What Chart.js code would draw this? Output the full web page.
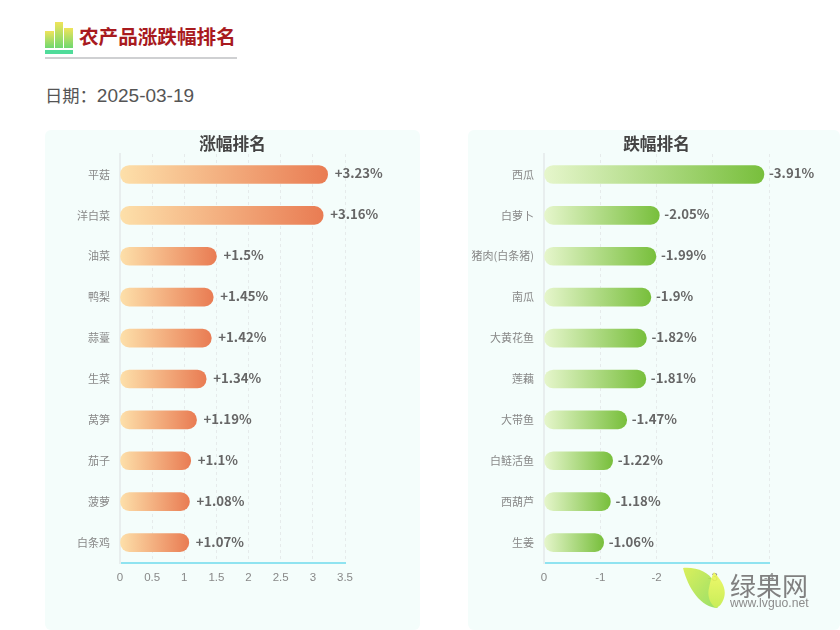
<!DOCTYPE html>
<html lang="zh">
<head>
<meta charset="utf-8">
<title>农产品涨跌幅排名</title>
<script src="https://cdn.jsdelivr.net/npm/chart.js@4/dist/chart.umd.min.js"></script>
<style>
  html, body { margin: 0; padding: 0; background: #fff; overflow: hidden; }
  body { width: 840px; height: 630px; position: relative; font-family: "Noto Sans CJK SC", sans-serif; }
  .abs { position: absolute; }
  .panel { background: #f4fdfb; border-radius: 6px; top: 130px; height: 500px; }
  .icon div { position: absolute; bottom: 6px; width: 8.5px; background: linear-gradient(#f0e45a, #6fd870); }
</style>
</head>
<body>
  <div class="abs icon" style="left:45px;top:22px;width:28px;height:32px">
    <div style="left:0;height:17px"></div>
    <div style="left:9.5px;height:26px"></div>
    <div style="left:19px;height:20px"></div>
    <div style="left:0;bottom:0;width:28px;height:4px;background:#4fdc9a"></div>
  </div>
  <div class="abs" style="left:79px;top:22px;font-size:19.6px;line-height:28px;font-weight:700;color:#a81a1e;white-space:nowrap">农产品涨跌幅排名</div>
  <div class="abs" style="left:45px;top:57px;width:192px;height:2px;background:#cfd0d2"></div>
  <div class="abs" style="left:45px;top:84px;font-family:'Liberation Sans','Noto Sans CJK SC';font-size:17.3px;line-height:24px;color:#555;white-space:nowrap">日期：<span style="font-size:19px">2025-03-19</span></div>

  <div class="abs panel" style="left:45px;width:375px"><canvas id="riseChart" width="375" height="500" style="width:375px;height:500px"></canvas></div>
  <div class="abs panel" style="left:468px;width:372px"><canvas id="fallChart" width="377" height="500" style="width:377px;height:500px"></canvas></div>

  <svg class="abs" style="left:683px;top:566px;opacity:.9" width="44" height="44" viewBox="0 0 44 44">
    <defs>
      <linearGradient id="leafA" x1="0" y1="0" x2="1" y2="1"><stop offset="0" stop-color="#d8ee4a"/><stop offset="1" stop-color="#8fdc5a"/></linearGradient>
      <linearGradient id="leafB" x1="0" y1="0" x2="0" y2="1"><stop offset="0" stop-color="#eef75a"/><stop offset="1" stop-color="#c4ec48"/></linearGradient>
    </defs>
    <path d="M0 2 C14 1 26 6 31 16 C26 24 26 34 35 42 C18 42 5 22 0 2 Z" fill="url(#leafA)"/>
    <path d="M31 6 C38 14 44 22 41 32 C39 38 36 41 33 42 C27 38 24 30 26 22 C27 16 29 10 31 6 Z" fill="url(#leafB)"/>
  </svg>
  <div class="abs" style="left:730px;top:569px;font-size:26px;line-height:32px;color:#808080;white-space:nowrap">绿果网</div>
  <div class="abs" style="left:730px;top:596px;font-family:'Liberation Sans';font-size:12.2px;line-height:14px;color:#8c8c8c;white-space:nowrap">www.lvguo.net</div>

<script>
// 涨幅
const riseNames = ['平菇', '洋白菜', '油菜', '鸭梨', '蒜薹', '生菜', '莴笋', '茄子', '菠萝', '白条鸡'];
const riseValues = [3.23, 3.16, 1.5, 1.45, 1.42, 1.34, 1.19, 1.1, 1.08, 1.07];
const riseTicks = [0, 0.5, 1, 1.5, 2, 2.5, 3, 3.5];

// 跌幅
const fallNames = ['西瓜', '白萝卜', '猪肉(白条猪)', '南瓜', '大黄花鱼', '莲藕', '大带鱼', '白鲢活鱼', '西葫芦', '生姜'];
const fallValues = [-3.91, -2.05, -1.99, -1.9, -1.82, -1.81, -1.47, -1.22, -1.18, -1.06];
const fallTicks = [0, -1, -2, -3, -4];

const FONT = '"Noto Sans CJK SC", sans-serif';

// 막대 끝에 값 표시, 제목은 캔버스 전체 폭 기준으로 가운데 정렬
const valueLabels = {
    id: 'valueLabels',
    afterLayout(chart) {
        chart.titleBlock.left = 0;
        chart.titleBlock.right = chart.width;
    },
    afterDatasetsDraw(chart) {
        const ctx = chart.ctx;
        ctx.save();
        ctx.font = '600 13.2px ' + FONT;
        ctx.fillStyle = '#666';
        ctx.textAlign = 'left';
        ctx.textBaseline = 'middle';
        chart.getDatasetMeta(0).data.forEach((bar, i) => {
            const v = chart.data.datasets[0].data[i];
            ctx.fillText((v > 0 ? '+' : '') + v + '%', bar.x + (v > 0 ? 7 : 5), bar.y - 1);
        });
        ctx.restore();
    }
};

function barGradient(context, from, to) {
    const chart = context.chart;
    const x = chart.scales.x;
    if (!x || context.raw === undefined) return to;
    const x0 = x.getPixelForValue(0);
    const x1 = x.getPixelForValue(context.raw);
    if (!isFinite(x0) || !isFinite(x1)) return to;  // 레이아웃 전
    const g = chart.ctx.createLinearGradient(x0, 0, x1, 0);
    g.addColorStop(0, from);
    g.addColorStop(1, to);
    return g;
}

function createChart(canvasId, title, names, values, ticks, from, to, yWidth, rightPad) {
    const low = Math.min(...ticks), high = Math.max(...ticks);
    return new Chart(document.getElementById(canvasId), {
        type: 'bar',
        data: {
            labels: names,
            datasets: [{
                data: values,
                barThickness: 18,
                borderRadius: 9,
                borderSkipped: false,
                backgroundColor: c => barGradient(c, from, to)
            }]
        },
        options: {
            indexAxis: 'y',
            responsive: false,
            animation: false,
            layout: { padding: { left: 0, right: rightPad, top: 0, bottom: 39 } },
            plugins: {
                legend: { display: false },
                tooltip: { enabled: false },
                title: {
                    display: true,
                    text: title,
                    color: '#444',
                    font: { family: FONT, size: 16.7, weight: '700' },
                    padding: { top: 4, bottom: 0 }
                }
            },
            scales: {
                x: {
                    min: low,
                    max: high,
                    reverse: high === 0,
                    afterBuildTicks: s => { s.ticks = ticks.map(v => ({ value: v })); },
                    afterFit: s => { s.height = 28; },
                    grid: { color: '#e6ebeb', drawTicks: false },
                    border: { color: '#8fe3f0', width: 2, dash: [3, 3] },
                    ticks: {
                        color: '#888',
                        padding: 8,
                        maxRotation: 0,
                        font: { family: '"Liberation Sans"', size: 11.5 },
                        callback: v => String(v)
                    }
                },
                y: {
                    afterFit: s => { s.width = yWidth; },
                    grid: { display: false },
                    border: { color: '#e8eeee', width: 2 },
                    ticks: {
                        color: '#888',
                        padding: 2,
                        autoSkip: false,
                        font: { family: FONT, size: 11 }
                    }
                }
            }
        },
        plugins: [valueLabels]
    });
}

createChart('riseChart', '涨幅排名', riseNames, riseValues, riseTicks, '#fde0aa', '#e97c53', 75, 75);
createChart('fallChart', '跌幅排名', fallNames, fallValues, fallTicks, '#e6f6cc', '#78bf3c', 76, 76);
</script>
</body>
</html>
